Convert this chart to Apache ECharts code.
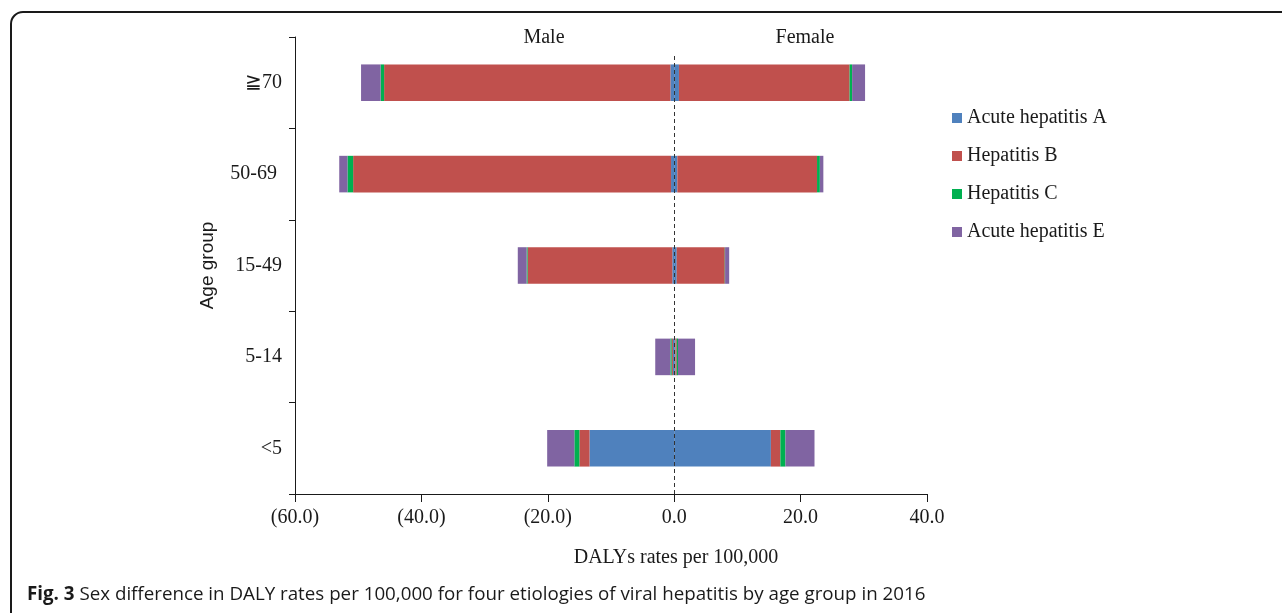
<!DOCTYPE html>
<html>
<head>
<meta charset="utf-8">
<title>Sex difference in DALY rates</title>
<script src="https://cdn.jsdelivr.net/npm/echarts@6.0.0/dist/echarts.min.js"></script>
<style>
  html, body { margin: 0; padding: 0; background: #fff; }
  #chart { width: 1282px; height: 613px; }
</style>
</head>
<body>
<div id="chart"></div>
<script>
/* -------------------------------------------------------------------------- */
/*                                   Data                                     */
/* -------------------------------------------------------------------------- */

// bottom to top, as on the y axis
const ageGroups = ['<5', '5-14', '15-49', '50-69 ', '≧70'];

const etiologies = [
  'Acute hepatitis A',
  'Hepatitis B',
  'Hepatitis C',
  'Acute hepatitis E',
];

// male rates drawn to the left (negative)
const maleA = [-13.4, -0.2, -0.3, -0.5, -0.6];
const maleB = [-1.6, -0.2, -22.9, -50.3, -45.3];
const maleC = [-0.8, -0.2, -0.15, -0.9, -0.55];
const maleE = [-4.3, -2.4, -1.4, -1.3, -3.1];

const femaleA = [15.3, 0.2, 0.4, 0.5, 0.75];
const femaleB = [1.5, 0.2, 7.6, 22.1, 27.0];
const femaleC = [0.8, 0.2, 0.05, 0.45, 0.4];
const femaleE = [4.6, 2.7, 0.65, 0.55, 2.05];

const xTicks = { min: -60, max: 40, interval: 20 };

const colors = ['#4f81bd', '#c0504d', '#00b050', '#8064a2'];

/* -------------------------------------------------------------------------- */
/*                                   Chart                                    */
/* -------------------------------------------------------------------------- */

const serif = 'Liberation Serif';
const ink = '#1a1a1a';

const maleData = [maleA, maleB, maleC, maleE];
const femaleData = [femaleA, femaleB, femaleC, femaleE];

const makeSeries = (name, data, color) => ({
  name,
  type: 'bar',
  stack: 'total',
  barWidth: '40%',
  data,
  itemStyle: { color },
  emphasis: { disabled: true },
});

const series = [];
etiologies.forEach((name, i) => {
  series.push(makeSeries(name, maleData[i], colors[i]));
  series.push(makeSeries(name, femaleData[i], colors[i]));
});

// dashed zero line, on a hidden 0..1 axis so it can stop short of the top
series.push({
  name: 'zero',
  type: 'line',
  yAxisIndex: 1,
  data: [],
  markLine: {
    silent: true,
    symbol: 'none',
    label: { show: false },
    lineStyle: { color: '#333', type: [4, 3], width: 1 },
    data: [[{ coord: [0, 0] }, { coord: [0, 0.96] }]],
  },
});

const chart = echarts.init(document.getElementById('chart'));

chart.setOption({
  animation: false,
  color: colors,
  title: {
    left: 22,
    top: 580,
    text: '{b|Fig. 3} Sex difference in DALY rates per 100,000 for four etiologies of viral hepatitis by age group in 2016',
    textStyle: {
      fontFamily: 'Open Sans',
      fontSize: 18.75,
      fontWeight: 'normal',
      color: ink,
      rich: {
        b: { fontFamily: 'Open Sans', fontSize: 18.75, fontWeight: 'bold', color: ink },
      },
    },
  },
  legend: {
    data: etiologies,
    orient: 'vertical',
    left: 947,
    top: 103,
    itemWidth: 10,
    itemHeight: 10,
    itemGap: 18,
    icon: 'rect',
    selectedMode: false,
    textStyle: { fontFamily: serif, fontSize: 20, color: ink, lineHeight: 20 },
  },
  grid: {
    left: 295,
    right: 355,
    top: 37,
    bottom: 119,
  },
  xAxis: {
    type: 'value',
    min: xTicks.min,
    max: xTicks.max,
    interval: xTicks.interval,
    splitLine: { show: false },
    axisLine: { show: true, lineStyle: { color: ink, width: 1 } },
    axisTick: { show: true, length: 8, lineStyle: { color: ink } },
    axisLabel: {
      margin: 14,
      fontFamily: serif,
      fontSize: 20,
      color: ink,
      formatter: (v) => (v < 0 ? `(${(-v).toFixed(1)})` : v.toFixed(1)),
    },
  },
  yAxis: [
    {
      type: 'category',
      data: ageGroups,
      name: 'Age group',
      nameLocation: 'middle',
      nameGap: 78,
      nameTextStyle: { fontFamily: 'Liberation Sans', fontSize: 19, color: ink },
      axisLine: { show: true, onZero: false, lineStyle: { color: ink, width: 1 } },
      axisTick: { show: true, length: 6, lineStyle: { color: ink } },
      axisLabel: { margin: 13, fontFamily: serif, fontSize: 20, color: ink },
    },
    {
      type: 'value',
      show: false,
      min: 0,
      max: 1,
      splitLine: { show: false },
    },
  ],
  graphic: [
    {
      type: 'rect',
      silent: true,
      shape: { x: 11, y: 12, width: 1400, height: 700, r: 12 },
      style: { fill: 'none', stroke: ink, lineWidth: 2 },
    },
    {
      type: 'text',
      x: 544,
      y: 38,
      style: { text: 'Male', font: `20px "${serif}"`, fill: ink, align: 'center', verticalAlign: 'middle' },
    },
    {
      type: 'text',
      x: 805,
      y: 38,
      style: { text: 'Female', font: `20px "${serif}"`, fill: ink, align: 'center', verticalAlign: 'middle' },
    },
    {
      type: 'text',
      x: 676,
      y: 558,
      style: { text: 'DALYs rates per 100,000', font: `20px "${serif}"`, fill: ink, align: 'center', verticalAlign: 'middle' },
    },
  ],
  series,
});
</script>
</body>
</html>
